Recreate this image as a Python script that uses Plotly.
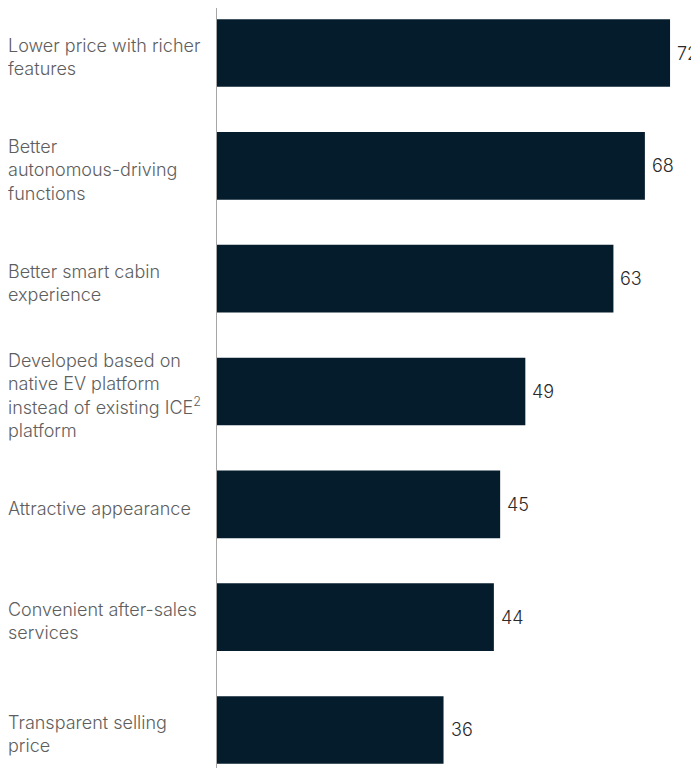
import plotly.graph_objects as go

categories = [
    "Lower price with richer<br>features",
    "Better<br>autonomous-driving<br>functions",
    "Better smart cabin<br>experience",
    "Developed based on<br>native EV platform<br>instead of existing ICE<sup>2</sup><br>platform",
    "Attractive appearance",
    "Convenient after-sales<br>services",
    "Transparent selling<br>price",
]
values = [72, 68, 63, 49, 45, 44, 36]

BAR = "#051C2C"
FONT = "Inter"

fig = go.Figure(go.Bar(
    y=list(range(len(values))),
    x=values,
    orientation="h",
    marker=dict(color=BAR, line=dict(width=0)),
    width=0.6,
    hoverinfo="skip",
))

annotations = []
for i, (c, v) in enumerate(zip(categories, values)):
    annotations.append(dict(
        x=-0.4378, xref="paper", y=i, yref="y", text=c, showarrow=False,
        xanchor="left", yanchor="middle", align="left", yshift=-4,
        font=dict(family=FONT, size=18, color="#5e5e5e", weight=300),
    ))
    annotations.append(dict(
        x=v, xref="x", y=i, yref="y", text=str(v), showarrow=False,
        xanchor="left", yanchor="middle", xshift=5,
        font=dict(family=FONT, size=18, color="#2a2a2a", weight=300),
    ))

fig.update_layout(
    width=691, height=761,
    margin=dict(l=209, r=0, t=0, b=1),
    paper_bgcolor="white", plot_bgcolor="white",
    showlegend=False,
    xaxis=dict(range=[0, 76.6], visible=False, fixedrange=True),
    yaxis=dict(range=[6.337, -0.399], showticklabels=False, showgrid=False,
               zeroline=False, showline=True, linecolor="#a6a6a6", linewidth=1,
               ticks=""),
    annotations=annotations,
)

fig.write_html("out.html")
